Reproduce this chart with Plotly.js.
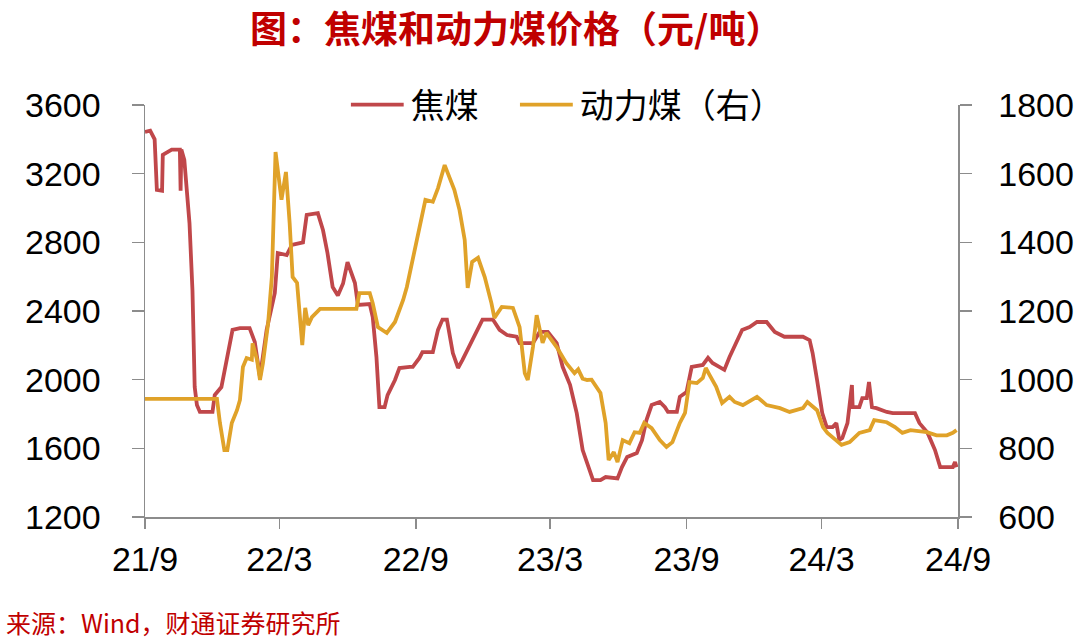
<!DOCTYPE html>
<html>
<head>
<meta charset="utf-8">
<script src="https://cdn.plot.ly/plotly-3.0.1.min.js"></script>
<style>
html,body{margin:0;padding:0;background:#fff;}
#chart{width:1080px;height:641px;}
</style>
</head>
<body>
<div id="chart"></div>
<script>
// ---- data ----
const cokingDates = [
 '2021-09-01','2021-09-08','2021-09-14','2021-09-17','2021-09-24','2021-09-25','2021-10-07','2021-10-18','2021-10-19','2021-10-20',
 '2021-10-24','2021-10-31','2021-11-04','2021-11-07','2021-11-10','2021-11-14','2021-12-01','2021-12-04','2021-12-13','2021-12-21',
 '2021-12-28','2022-01-07','2022-01-20','2022-01-27','2022-02-03','2022-02-12','2022-02-23','2022-02-27','2022-03-11','2022-03-18',
 '2022-04-02','2022-04-07','2022-04-22','2022-04-29','2022-05-05','2022-05-12','2022-05-19','2022-05-26','2022-06-01','2022-06-11',
 '2022-06-15','2022-07-01','2022-07-05','2022-07-10','2022-07-14','2022-07-21','2022-07-25','2022-08-04','2022-08-10','2022-08-24',
 '2022-08-28','2022-09-06','2022-09-10','2022-09-24','2022-10-01','2022-10-07','2022-10-13','2022-10-21','2022-10-28','2022-11-03',
 '2022-11-22','2022-11-30','2022-12-14','2022-12-23','2023-01-02','2023-01-15','2023-01-19','2023-02-06','2023-02-15','2023-02-26',
 '2023-03-10','2023-03-18','2023-03-28','2023-04-06','2023-04-14','2023-04-24','2023-04-28','2023-05-08','2023-05-15','2023-05-31',
 '2023-06-06','2023-06-13','2023-06-26','2023-07-03','2023-07-09','2023-07-16','2023-07-27','2023-08-03','2023-08-07','2023-08-19',
 '2023-08-23','2023-09-01','2023-09-08','2023-09-23','2023-09-30','2023-10-06','2023-10-22','2023-10-29','2023-11-08','2023-11-15',
 '2023-11-25','2023-12-05','2023-12-18','2023-12-29','2024-01-11','2024-02-05','2024-02-14','2024-02-18','2024-02-24','2024-03-02',
 '2024-03-08','2024-03-16','2024-03-21','2024-03-25','2024-03-29','2024-04-05','2024-04-11','2024-04-12','2024-04-21','2024-04-25',
 '2024-05-01','2024-05-04','2024-05-08','2024-05-14','2024-05-28','2024-06-05','2024-07-05','2024-07-11','2024-07-22','2024-08-01',
 '2024-08-08','2024-08-17','2024-08-25','2024-08-28','2024-08-30'
];
const cokingPrice = [
 3443,3450,3400,3105,3100,3310,3340,3340,3100,3340,
 3280,2910,2520,1957,1852,1812,1812,1910,1957,2132,
 2290,2300,2300,2220,2015,2290,2505,2738,2726,2785,
 2800,2960,2970,2870,2738,2540,2490,2560,2685,2563,
 2435,2440,2365,2132,1840,1840,1910,1998,2068,2075,
 2075,2127,2160,2160,2290,2350,2350,2155,2068,2115,
 2272,2350,2350,2290,2260,2250,2213,2213,2278,2278,
 2213,2075,1970,1805,1590,1456,1415,1415,1433,1425,
 1491,1550,1573,1648,1765,1852,1870,1840,1812,1812,
 1900,1928,2074,2086,2127,2097,2057,2132,2230,2290,
 2307,2336,2336,2278,2250,2250,2230,2155,1998,1805,
 1724,1724,1747,1648,1660,1747,1969,1840,1840,1893,
 1893,1986,1840,1834,1812,1805,1805,1747,1690,1590,
 1491,1491,1491,1520,1490
];
const thermalDates = [
 '2021-09-01','2021-12-07','2021-12-11','2021-12-17','2021-12-21','2021-12-27','2022-01-03','2022-01-07','2022-01-11','2022-01-16',
 '2022-01-23','2022-01-24','2022-01-30','2022-02-03','2022-02-07','2022-02-14','2022-02-19','2022-02-24','2022-03-04','2022-03-10',
 '2022-03-15','2022-03-19','2022-03-25','2022-03-29','2022-04-01','2022-04-05','2022-04-09','2022-04-14','2022-04-21','2022-04-25',
 '2022-06-13','2022-06-17','2022-07-01','2022-07-05','2022-07-12','2022-07-24','2022-08-04','2022-08-15','2022-08-20','2022-08-28',
 '2022-09-04','2022-09-14','2022-09-24','2022-10-01','2022-10-10','2022-10-14','2022-10-23','2022-10-30','2022-11-06','2022-11-10',
 '2022-11-16','2022-11-24','2022-12-03','2022-12-12','2022-12-16','2022-12-26','2023-01-10','2023-01-19','2023-01-26','2023-01-30',
 '2023-02-06','2023-02-11','2023-02-15','2023-02-19','2023-02-24','2023-03-10','2023-03-23','2023-04-03','2023-04-08','2023-04-14',
 '2023-04-20','2023-04-26','2023-05-08','2023-05-15','2023-05-19','2023-05-26','2023-05-31','2023-06-07','2023-06-16','2023-06-23',
 '2023-06-30','2023-07-06','2023-07-16','2023-07-27','2023-08-05','2023-08-13','2023-08-23','2023-08-30','2023-09-05','2023-09-15',
 '2023-09-23','2023-09-27','2023-10-02','2023-10-11','2023-10-19','2023-10-29','2023-11-05','2023-11-16','2023-12-05','2023-12-18',
 '2024-01-05','2024-01-18','2024-02-05','2024-02-11','2024-02-24','2024-03-03','2024-03-09','2024-03-21','2024-03-28','2024-04-08',
 '2024-04-21','2024-05-05','2024-05-11','2024-05-28','2024-06-08','2024-06-18','2024-06-29','2024-07-21','2024-08-03','2024-08-17',
 '2024-08-25','2024-08-30'
];
const thermalPrice = [
 944,944,874,795,795,874,911,941,1037,1063,
 1058,1106,1058,999,1048,1165,1299,1663,1524,1605,
 1456,1299,1282,1194,1101,1209,1159,1182,1197,1206,
 1206,1252,1252,1223,1153,1136,1168,1232,1270,1349,
 1416,1524,1518,1558,1625,1602,1553,1494,1407,1267,
 1343,1355,1299,1223,1180,1212,1209,1153,1019,999,
 1095,1188,1153,1107,1136,1095,1048,1019,1030,1003,
 999,1000,961,874,766,789,760,824,815,847,
 845,874,859,824,804,818,874,903,993,990,
 1005,1034,1014,979,932,950,935,926,950,926,
 917,906,917,935,911,862,845,824,810,818,
 845,853,882,876,862,845,853,847,838,838,
 845,853
];
const xTickDates  = ['2021-09-01','2022-03-01','2022-09-01','2023-03-01','2023-09-01','2024-03-01','2024-09-01'];
const xTickLabels = ['21/9','22/3','22/9','23/3','23/9','24/3','24/9'];
const seriesNames = ['焦煤','动力煤（右）'];
const titleText = '图：焦煤和动力煤价格（元/吨）';
const sourceText = '来源：Wind，财通证券研究所';

// ---- chart ----
const axisGrey = '#8c8c8c';
const tickFont = {family:'Liberation Sans, Arial, sans-serif', size:34, color:'#000'};
const legendFont = {family:'Noto Sans CJK SC, sans-serif', size:34, color:'#000'};

const traces = [
  {x: cokingDates, y: cokingPrice, name: seriesNames[0], type:'scatter', mode:'lines',
   line:{color:'#C0474A', width:3.8}, yaxis:'y', legend:'legend'},
  {x: thermalDates, y: thermalPrice, name: seriesNames[1], type:'scatter', mode:'lines',
   line:{color:'#E0A229', width:3.8}, yaxis:'y2', legend:'legend2'}
];

const layout = {
  width:1080, height:641,
  paper_bgcolor:'#fff', plot_bgcolor:'#fff',
  margin:{l:145, r:122, t:105, b:124},
  title:{text: titleText, x:0.478, xref:'container', xanchor:'center', y:0.953, yref:'container', yanchor:'middle',
         font:{family:'Noto Sans CJK SC, sans-serif', size:37, color:'#C00000', weight:'bold'}},
  showlegend:true,
  legend:{orientation:'h', x:0.253, xanchor:'left', y:1.0, yanchor:'middle', bgcolor:'rgba(0,0,0,0)',
          font:legendFont, itemwidth:50},
  legend2:{orientation:'h', x:0.461, xanchor:'left', y:1.0, yanchor:'middle', bgcolor:'rgba(0,0,0,0)',
          font:legendFont, itemwidth:50},
  xaxis:{type:'date', range:['2021-09-01','2024-09-01'], tickmode:'array', tickvals:xTickDates, ticktext:xTickLabels,
         showgrid:false, zeroline:false, showline:true, linecolor:axisGrey, linewidth:1.5,
         ticks:'outside', ticklen:10, tickwidth:1.5, tickcolor:axisGrey, tickfont:tickFont, ticklabelstandoff:2},
  yaxis:{range:[1200,3600], dtick:400, tick0:1200, showgrid:false, zeroline:false, showline:true, linecolor:axisGrey, linewidth:1.5,
         ticks:'outside', ticklen:12, tickwidth:1.5, tickcolor:axisGrey, tickfont:tickFont, ticklabelstandoff:24},
  yaxis2:{range:[600,1800], dtick:200, tick0:600, overlaying:'y', side:'right', showgrid:false, zeroline:false,
          showline:true, linecolor:axisGrey, linewidth:1.5,
          ticks:'outside', ticklen:12, tickwidth:1.5, tickcolor:axisGrey, tickfont:tickFont, ticklabelstandoff:20},
  annotations:[{text: sourceText, xref:'paper', yref:'paper', x:-0.173, xanchor:'left', y:-0.254, yanchor:'middle',
                showarrow:false, font:{family:'Noto Sans CJK SC, sans-serif', size:25, color:'#C00000'}}]
};

Plotly.newPlot('chart', traces, layout, {displayModeBar:false, staticPlot:true}).then(function(gd){
  // lengthen the legend line samples to match the reference
  gd.querySelectorAll('.legendlines path').forEach(function(p){ p.setAttribute('d','M0,0h53'); });
});
</script>
</body>
</html>
